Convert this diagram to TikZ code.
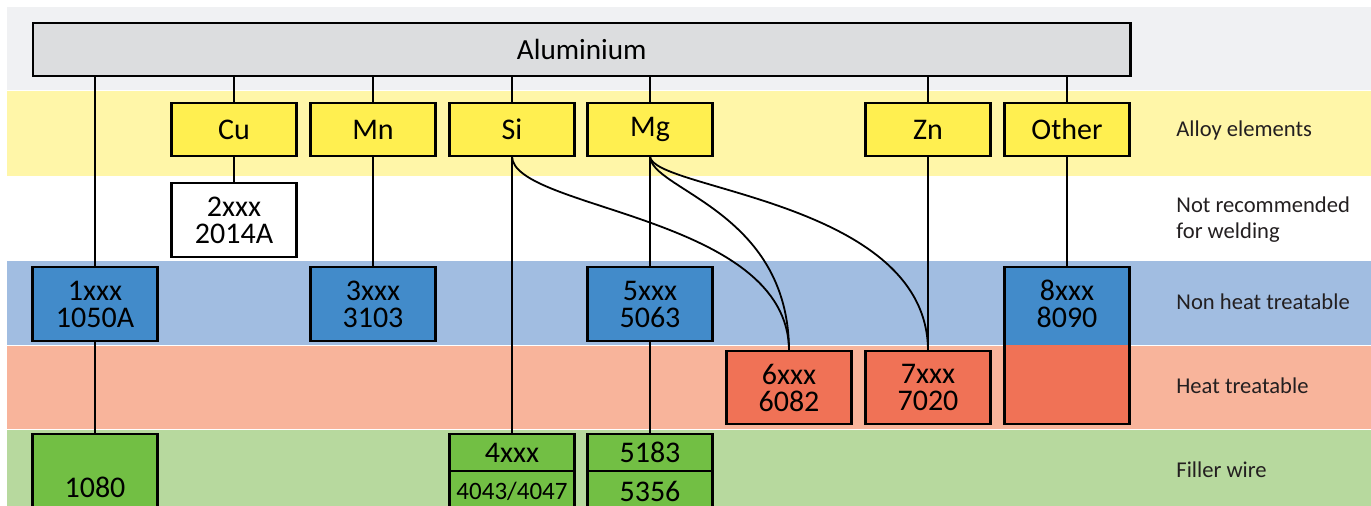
\documentclass[tikz,border=0pt]{standalone}
\usepackage{fontspec}
\setmainfont{Carlito}
\usetikzlibrary{positioning}
\definecolor{topband}{HTML}{F0F1F3}
\definecolor{alufill}{HTML}{DCDDDF}
\definecolor{alyband}{HTML}{FFF6A8}
\definecolor{alyfill}{HTML}{FFEF50}
\definecolor{nhband}{HTML}{A1BDE1}
\definecolor{nhfill}{HTML}{428BCA}
\definecolor{htband}{HTML}{F8B49B}
\definecolor{htfill}{HTML}{F07256}
\definecolor{fwband}{HTML}{B7D99E}
\definecolor{fwfill}{HTML}{72BF44}
\definecolor{lbltext}{HTML}{231F20}

\begin{document}
\begin{tikzpicture}[
  x=0.5pt, y=-0.5pt,
  box/.style={draw, line width=1.1pt, inner sep=0pt, outer sep=0pt, minimum width=62.5pt,
    align=center, font=\fontsize{15}{13.5}\selectfont},
  elbox/.style={box, fill=alyfill, minimum height=26.5pt},
  nrbox/.style={box, fill=white, minimum height=37pt},
  nhbox/.style={box, fill=nhfill, minimum height=37pt},
  htbox/.style={box, fill=htfill, minimum height=36.5pt},
  fwbox/.style={box, fill=fwfill},
  wire/.style={line width=0.9pt},
  lbl/.style={anchor=west, align=left, text=lbltext, inner sep=0pt,
    font=\fontsize{11.3}{13}\selectfont},
]

\clip (0,0) rectangle (1371,506);

% ---------- bands ----------
\fill[topband] (7,7)   rectangle (1371,90);
\fill[alyband] (7,91)  rectangle (1371,176);
\fill[nhband]  (7,261) rectangle (1371,345);
\fill[htband]  (7,346) rectangle (1371,429);
\fill[fwband]  (7,430) rectangle (1371,506);

% ---------- Aluminium ----------
\node[box, fill=alufill, minimum width=548.75pt, minimum height=26.5pt,
  font=\fontsize{14.6}{16}\selectfont] (alu) at (581.75,49.5) {Aluminium};

% ---------- alloy elements ----------
\foreach \x/\nm/\txt in {234/cu/Cu, 373/mn/Mn, 512/si/Si, 650/mg/Mg, 928/zn/Zn, 1067/oth/Other}
  \node[elbox] (\nm) at (\x,129.5) {\txt};

% ---------- series ----------
\node[nrbox] (g2) at (234,220)   {2xxx\\2014A};
\node[nhbox] (g1) at (95,304)    {1xxx\\1050A};
\node[nhbox] (g3) at (373,304)   {3xxx\\3103};
\node[nhbox] (g5) at (650,304)   {5xxx\\5063};
\node[htbox] (g6) at (789,387.5) {6xxx\\6082};
\node[htbox] (g7) at (928,387.5) {7xxx\\7020};

% 8xxx: upper half non heat treatable, lower half heat treatable
\coordinate (hsplit) at (1067,345);
\node[nhbox, minimum height=78.5pt,
  path picture={\fill[htfill] (path picture bounding box.south west)
    rectangle (path picture bounding box.east |- hsplit);}] (g8) at (1067,345.5) {};
\node[box, draw=none, minimum height=37pt, below=0pt of g8.north] (g8t) {8xxx\\8090};

% ---------- filler wire ----------
\node[fwbox, minimum height=53pt] (f1) at (95,487) {1080};
\node[fwbox, minimum height=18.5pt] (f4) at (512,452.5) {4xxx};
\node[fwbox, minimum height=20pt, below=0pt of f4, font=\fontsize{12.5}{13}\selectfont] (f4b) {4043/4047};
\node[fwbox, minimum height=18.5pt] (f5) at (650,452.5) {5183};
\node[fwbox, minimum height=20pt, below=0pt of f5] (f5b) {5356};

% ---------- connectors ----------
\foreach \nm in {g1,cu,mn,si,mg,zn,oth}
  \draw[wire] (\nm.north) -- (\nm.north |- alu.south);
\draw[wire] (cu.south) -- (g2.north);
\draw[wire] (mn.south) -- (g3.north);
\draw[wire] (si.south) -- (f4.north);
\draw[wire] (mg.south) -- (g5.north);
\draw[wire] (g5.south) -- (f5.north);
\draw[wire] (zn.south) -- (g7.north);
\draw[wire] (oth.south) -- (g8.north);
\draw[wire] (g1.south) -- (f1.north);
% 6xxx from Si and Mg, 7xxx from Mg
\draw[wire] (si.south) .. controls +(0,54) and +(0,-136) .. (g6.north);
\draw[wire] (mg.south) .. controls +(0,34) and +(0,-141) .. (g6.north);
\draw[wire] (mg.south) .. controls +(0,34) and +(0,-151) .. (g7.north);

% ---------- row labels ----------
\node[lbl] (lalloy)  at (1176,130) {Alloy elements};
\node[lbl] (lnotrec) at (1176,220) {Not recommended\\for welding};
\node[lbl] (lnonht)  at (1176,302) {Non heat treatable};
\node[lbl] (lheat)   at (1176,386) {Heat treatable};
\node[lbl] (lfiller) at (1176,470) {Filler wire};

\end{tikzpicture}
\end{document}
